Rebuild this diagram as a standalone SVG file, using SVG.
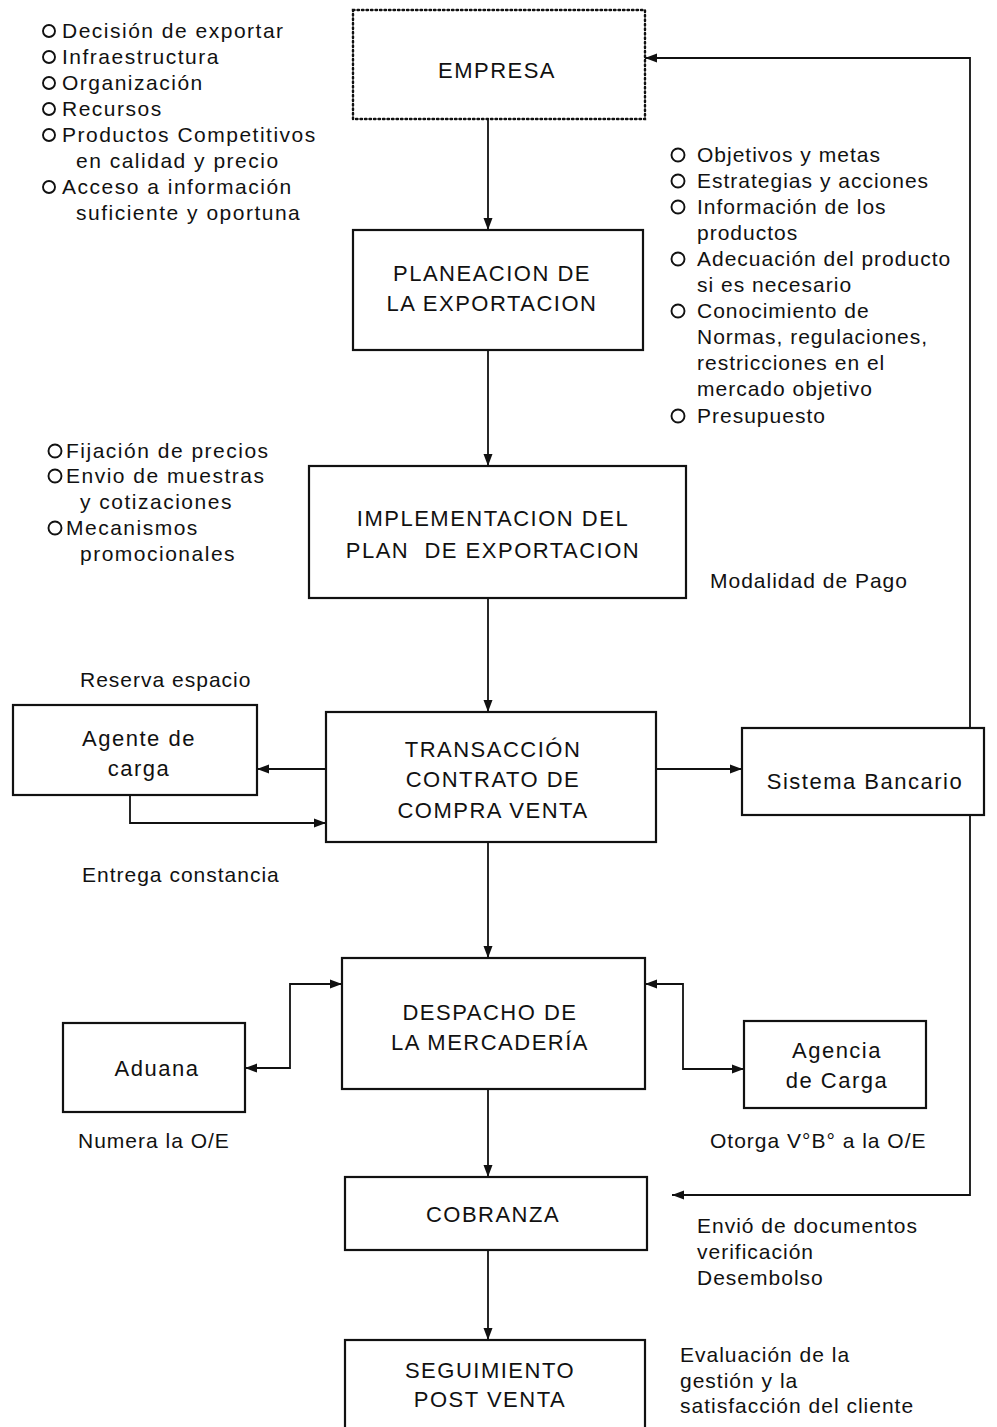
<svg xmlns="http://www.w3.org/2000/svg" width="997" height="1427" viewBox="0 0 997 1427">
<style>
.box{fill:#fff;stroke:#111;stroke-width:2.2}
.dot{fill:#fff;stroke:#111;stroke-width:2.4;stroke-dasharray:1.5 3;stroke-linecap:round}
.c{fill:none;stroke:#111;stroke-width:1.8}
.t{font-family:"Liberation Sans",Arial,sans-serif;font-size:22px;letter-spacing:1.5px;fill:#111;text-anchor:middle}
.l{font-family:"Liberation Sans",Arial,sans-serif;font-size:21px;letter-spacing:1px;fill:#111}
.ll{font-family:"Liberation Sans",Arial,sans-serif;font-size:21px;letter-spacing:1.5px;fill:#111}
.b{fill:none;stroke:#111;stroke-width:1.9}
</style>
<defs>
<marker id="ar" viewBox="0 0 12 10" refX="12" refY="5" markerWidth="12" markerHeight="10" markerUnits="userSpaceOnUse" orient="auto-start-reverse">
<path d="M0,0.5 L12,5 L0,9.5 Z" fill="#111"/>
</marker>
</defs>
<g id="connectors">
<line class="c" x1="488" y1="119" x2="488" y2="230" marker-end="url(#ar)"/>
<line class="c" x1="488" y1="350" x2="488" y2="466" marker-end="url(#ar)"/>
<line class="c" x1="488" y1="598" x2="488" y2="712" marker-end="url(#ar)"/>
<line class="c" x1="488" y1="842" x2="488" y2="958" marker-end="url(#ar)"/>
<line class="c" x1="488" y1="1089" x2="488" y2="1177" marker-end="url(#ar)"/>
<line class="c" x1="488" y1="1250" x2="488" y2="1340" marker-end="url(#ar)"/>
<line class="c" x1="326" y1="769" x2="257" y2="769" marker-end="url(#ar)"/>
<polyline class="c" points="130,795 130,823 326,823" marker-end="url(#ar)"/>
<line class="c" x1="656" y1="769" x2="742" y2="769" marker-end="url(#ar)"/>
<polyline class="c" points="245,1068 290,1068 290,984 342,984" marker-start="url(#ar)" marker-end="url(#ar)"/>
<polyline class="c" points="645,984 683,984 683,1069 744,1069" marker-start="url(#ar)" marker-end="url(#ar)"/>
<polyline class="c" points="645,58 970,58 970,1195 672,1195" marker-start="url(#ar)" marker-end="url(#ar)"/>
</g>
<g id="empresa">
<rect class="dot" x="353" y="10" width="292" height="109"/>
<text class="t" x="497" y="78">EMPRESA</text>
</g>
<g id="planeacion">
<rect class="box" x="353" y="230" width="290" height="120"/>
<text class="t" x="492" y="281">PLANEACION DE</text>
<text class="t" x="492" y="311">LA EXPORTACION</text>
</g>
<g id="implementacion">
<rect class="box" x="309" y="466" width="377" height="132"/>
<text class="t" x="493" y="526">IMPLEMENTACION DEL</text>
<text class="t" x="493" y="558" xml:space="preserve">PLAN  DE EXPORTACION</text>
</g>
<g id="transaccion">
<rect class="box" x="326" y="712" width="330" height="130"/>
<text class="t" x="493" y="757">TRANSACCIÓN</text>
<text class="t" x="493" y="787">CONTRATO DE</text>
<text class="t" x="493" y="818">COMPRA VENTA</text>
</g>
<g id="agente">
<rect class="box" x="13" y="705" width="244" height="90"/>
<text class="t" x="139" y="746">Agente de</text>
<text class="t" x="139" y="776">carga</text>
</g>
<g id="banco">
<rect class="box" x="742" y="728" width="242" height="87"/>
<text class="t" x="865" y="789">Sistema Bancario</text>
</g>
<g id="despacho">
<rect class="box" x="342" y="958" width="303" height="131"/>
<text class="t" x="490" y="1020">DESPACHO DE</text>
<text class="t" x="490" y="1050">LA MERCADERÍA</text>
</g>
<g id="aduana">
<rect class="box" x="63" y="1023" width="182" height="89"/>
<text class="t" x="157" y="1076">Aduana</text>
</g>
<g id="agencia">
<rect class="box" x="744" y="1021" width="182" height="87"/>
<text class="t" x="837" y="1058">Agencia</text>
<text class="t" x="837" y="1088">de Carga</text>
</g>
<g id="cobranza">
<rect class="box" x="345" y="1177" width="302" height="73"/>
<text class="t" x="493" y="1222">COBRANZA</text>
</g>
<g id="seguimiento">
<rect class="box" x="345" y="1340" width="300" height="110"/>
<text class="t" x="490" y="1378">SEGUIMIENTO</text>
<text class="t" x="490" y="1407">POST VENTA</text>
</g>
<g id="lista-empresa">
<circle class="b" cx="49" cy="31" r="6"/><text class="ll" x="62" y="38">Decisión de exportar</text>
<circle class="b" cx="49" cy="57" r="6"/><text class="ll" x="62" y="64">Infraestructura</text>
<circle class="b" cx="49" cy="83" r="6"/><text class="ll" x="62" y="90">Organización</text>
<circle class="b" cx="49" cy="109" r="6"/><text class="ll" x="62" y="116">Recursos</text>
<circle class="b" cx="49" cy="135" r="6"/><text class="ll" x="62" y="142">Productos Competitivos</text>
<text class="ll" x="76" y="168">en calidad y precio</text>
<circle class="b" cx="49" cy="187" r="6"/><text class="ll" x="62" y="194">Acceso a información</text>
<text class="ll" x="76" y="220">suficiente y oportuna</text>
</g>
<g id="lista-planeacion">
<circle class="b" cx="678" cy="155" r="6.5"/><text class="l" x="697" y="162">Objetivos y metas</text>
<circle class="b" cx="678" cy="181" r="6.5"/><text class="l" x="697" y="188">Estrategias y acciones</text>
<circle class="b" cx="678" cy="207" r="6.5"/><text class="l" x="697" y="214">Información de los</text>
<text class="l" x="697" y="240">productos</text>
<circle class="b" cx="678" cy="259" r="6.5"/><text class="l" x="697" y="266">Adecuación del producto</text>
<text class="l" x="697" y="292">si es necesario</text>
<circle class="b" cx="678" cy="311" r="6.5"/><text class="l" x="697" y="318">Conocimiento de</text>
<text class="l" x="697" y="344">Normas, regulaciones,</text>
<text class="l" x="697" y="370">restricciones en el</text>
<text class="l" x="697" y="396">mercado objetivo</text>
<circle class="b" cx="678" cy="416" r="6.5"/><text class="l" x="697" y="423">Presupuesto</text>
</g>
<g id="lista-implementacion">
<circle class="b" cx="55" cy="451" r="6.5"/><text class="ll" x="66" y="458">Fijación de precios</text>
<circle class="b" cx="55" cy="476" r="6.5"/><text class="ll" x="66" y="483">Envio de muestras</text>
<text class="ll" x="80" y="509">y cotizaciones</text>
<circle class="b" cx="55" cy="528" r="6.5"/><text class="ll" x="66" y="535">Mecanismos</text>
<text class="ll" x="80" y="561">promocionales</text>
</g>
<g id="labels">
<text class="l" x="710" y="588">Modalidad de Pago</text>
<text class="l" x="80" y="687">Reserva espacio</text>
<text class="l" x="82" y="882">Entrega constancia</text>
<text class="l" x="78" y="1148">Numera la O/E</text>
<text class="l" x="710" y="1148">Otorga V°B° a la O/E</text>
<text class="l" x="697" y="1233">Envió de documentos</text>
<text class="l" x="697" y="1259">verificación</text>
<text class="l" x="697" y="1285">Desembolso</text>
<text class="l" x="680" y="1362">Evaluación de la</text>
<text class="l" x="680" y="1388">gestión y la</text>
<text class="l" x="680" y="1413">satisfacción del cliente</text>
</g>
</svg>
